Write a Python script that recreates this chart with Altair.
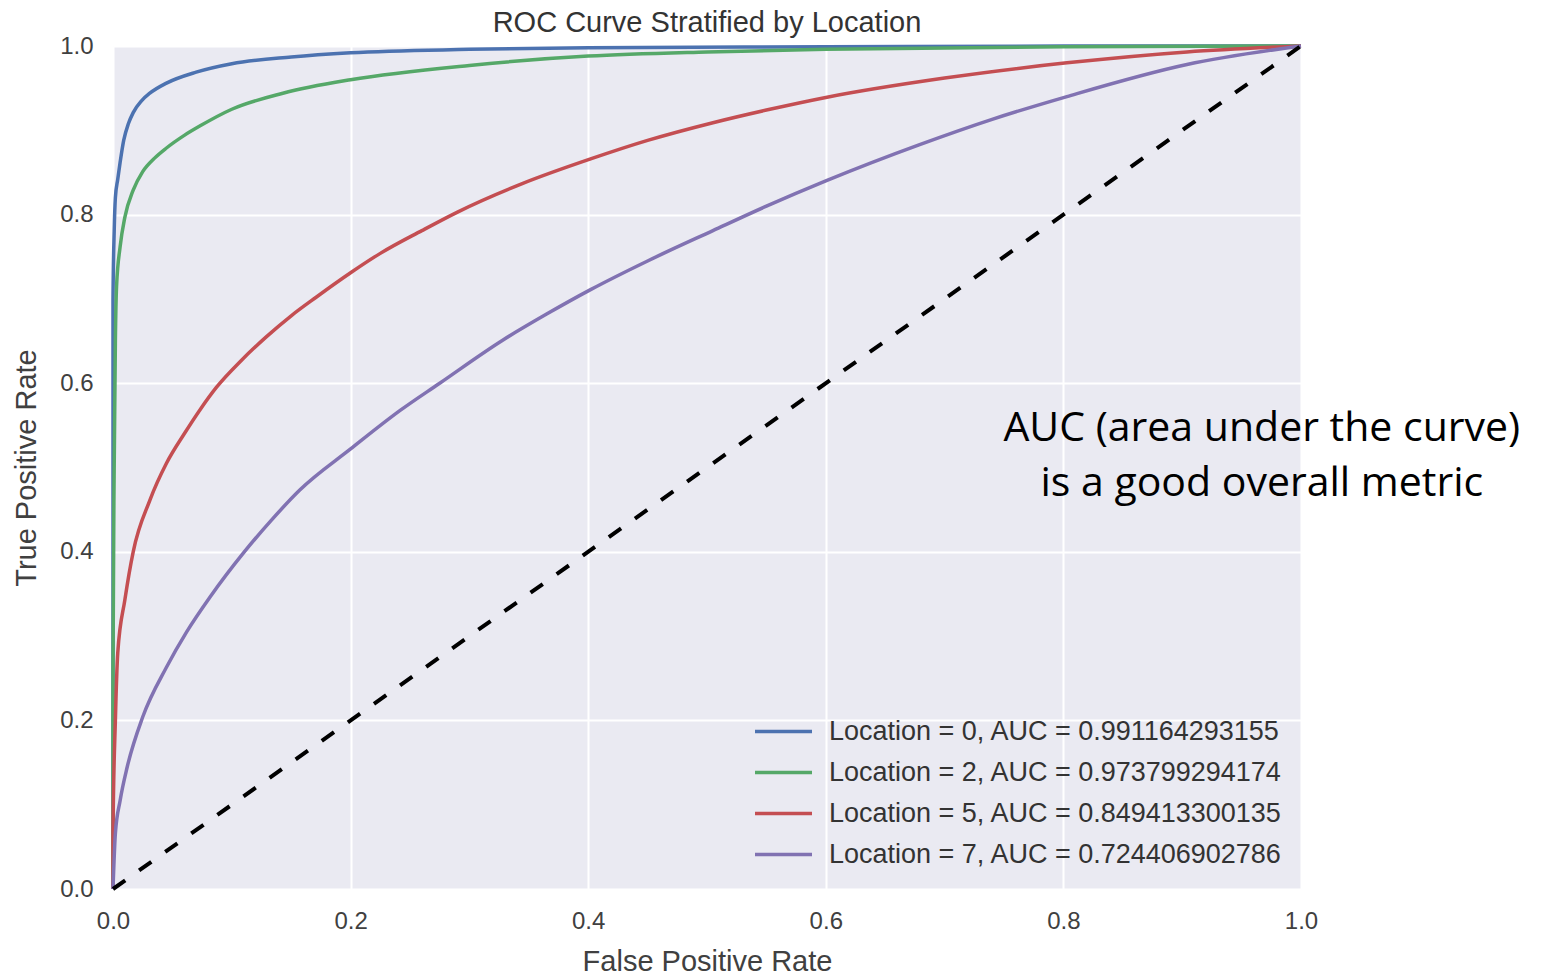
import altair as alt
import pandas as pd

# ---- data ----
series_labels = [
    "Location = 0, AUC = 0.991164293155",
    "Location = 2, AUC = 0.973799294174",
    "Location = 5, AUC = 0.849413300135",
    "Location = 7, AUC = 0.724406902786",
]
series_colors = ["#4C72B0", "#55A868", "#C44E52", "#8172B2"]

loc0_fpr = [0.0, 0.0, 0.001, 0.002, 0.004, 0.006, 0.009, 0.013, 0.017, 0.024, 0.031, 0.045, 0.07, 0.10, 0.15, 0.20, 0.30, 0.40, 0.60, 0.80, 1.0]
loc0_tpr = [0.0, 0.70, 0.78, 0.82, 0.842, 0.862, 0.888, 0.908, 0.921, 0.935, 0.944, 0.956, 0.969, 0.979, 0.987, 0.992, 0.996, 0.998, 0.999, 1.0, 1.0]

loc2_fpr = [0.0, 0.0, 0.001, 0.002, 0.003, 0.006, 0.010, 0.017, 0.025, 0.035, 0.045, 0.060, 0.073, 0.10, 0.143, 0.20, 0.30, 0.40, 0.50, 0.60, 0.80, 1.0]
loc2_tpr = [0.0, 0.26, 0.5, 0.65, 0.715, 0.762, 0.797, 0.829, 0.851, 0.867, 0.879, 0.894, 0.905, 0.925, 0.944, 0.96, 0.977, 0.988, 0.993, 0.996, 0.999, 1.0]

loc5_fpr = [0.0, 0.0, 0.002, 0.004, 0.01, 0.017, 0.031, 0.045, 0.060, 0.073, 0.087, 0.108, 0.129, 0.150, 0.171, 0.20, 0.225, 0.26, 0.29, 0.345, 0.402, 0.45, 0.505, 0.55, 0.60, 0.70, 0.803, 0.904, 1.0]
loc5_tpr = [0.0, 0.07, 0.2, 0.28, 0.343, 0.40, 0.461, 0.505, 0.540, 0.568, 0.595, 0.627, 0.655, 0.680, 0.702, 0.731, 0.754, 0.781, 0.803, 0.837, 0.866, 0.888, 0.909, 0.924, 0.939, 0.962, 0.980, 0.993, 1.0]

loc7_fpr = [0.0, 0.002, 0.006, 0.012, 0.025, 0.045, 0.062, 0.082, 0.110, 0.133, 0.157, 0.20, 0.242, 0.275, 0.328, 0.365, 0.402, 0.45, 0.505, 0.55, 0.60, 0.679, 0.74, 0.803, 0.904, 1.0]
loc7_tpr = [0.0, 0.066, 0.105, 0.145, 0.204, 0.263, 0.305, 0.347, 0.399, 0.437, 0.473, 0.522, 0.568, 0.600, 0.651, 0.682, 0.711, 0.745, 0.781, 0.810, 0.840, 0.883, 0.913, 0.940, 0.978, 1.0]

diag_fpr = [0.0, 1.0]
diag_tpr = [0.0, 1.0]

tick_values = [0.0, 0.2, 0.4, 0.6, 0.8, 1.0]

note_lines = ["AUC (area under the curve)", "is a good overall metric"]
note_x = [0.967, 0.967]
note_y = [0.546, 0.480]

# ---- build tables ----
rows = []
for label, fx, ty in zip(series_labels,
                         [loc0_fpr, loc2_fpr, loc5_fpr, loc7_fpr],
                         [loc0_tpr, loc2_tpr, loc5_tpr, loc7_tpr]):
    for i, (a, b) in enumerate(zip(fx, ty)):
        rows.append({"fpr": a, "tpr": b, "series": label, "i": i})
curves = pd.DataFrame(rows)
diag = pd.DataFrame({"fpr": diag_fpr, "tpr": diag_tpr})
notes = pd.DataFrame({"x": note_x, "y": note_y, "text": note_lines})

FONT = "Liberation Sans"
GRAY = "#404040"

x_axis = alt.Axis(values=tick_values, format=".1f", title="False Positive Rate",
                  grid=True, gridColor="white", gridWidth=2, domain=False, ticks=False,
                  labelFont=FONT, labelFontSize=24, labelColor=GRAY, labelPadding=20,
                  labelFlush=False,
                  titleFont=FONT, titleFontSize=29, titleColor=GRAY, titleFontWeight="normal",
                  titlePadding=14)
y_axis = alt.Axis(values=tick_values, format=".1f", title="True Positive Rate",
                  grid=True, gridColor="white", gridWidth=2, domain=False, ticks=False,
                  labelFont=FONT, labelFontSize=24, labelColor=GRAY, labelPadding=20,
                  labelFlush=False,
                  titleFont=FONT, titleFontSize=29, titleColor=GRAY, titleFontWeight="normal",
                  titlePadding=18)

xs = alt.Scale(domain=[0, 1], nice=False)
ys = alt.Scale(domain=[0, 1], nice=False)

lines = alt.Chart(curves).mark_line(strokeWidth=3.5, interpolate="monotone").encode(
    x=alt.X("fpr:Q", scale=xs, axis=x_axis),
    y=alt.Y("tpr:Q", scale=ys, axis=y_axis),
    order=alt.Order("i:Q"),
    color=alt.Color("series:N",
                    scale=alt.Scale(domain=series_labels, range=series_colors),
                    sort=series_labels,
                    legend=alt.Legend(orient="none", legendX=640, legendY=672,
                                      title=None, symbolType="stroke",
                                      symbolSize=3249, symbolStrokeWidth=3.5,
                                      labelFont=FONT, labelFontSize=27,
                                      labelColor="#333333", labelLimit=1000,
                                      labelOffset=15, rowPadding=13, clipHeight=27,
                                      fillColor="transparent")),
)

diag_line = alt.Chart(diag).mark_line(color="black", strokeWidth=4,
                                      strokeDash=[15, 17]).encode(
    x=alt.X("fpr:Q", scale=xs),
    y=alt.Y("tpr:Q", scale=ys),
)

note = alt.Chart(notes).mark_text(font="Open Sans", fontSize=41, color="black",
                                  align="center", baseline="middle").encode(
    x=alt.X("x:Q", scale=xs),
    y=alt.Y("y:Q", scale=ys),
    text="text:N",
)

chart = alt.layer(lines, diag_line, note).properties(
    width=1188,
    height=843,
    title=alt.Title("ROC Curve Stratified by Location", font=FONT, fontSize=29,
                    fontWeight="normal", color="#333333", anchor="middle",
                    frame="group", offset=-4),
    autosize=alt.AutoSizeParams(type="none"),
    padding={"left": 105, "top": 38, "right": 230, "bottom": 85},
).configure_view(fill="#EAEAF2", stroke="transparent")

chart.save("out.html", embed_options={"renderer": "svg", "actions": False})
